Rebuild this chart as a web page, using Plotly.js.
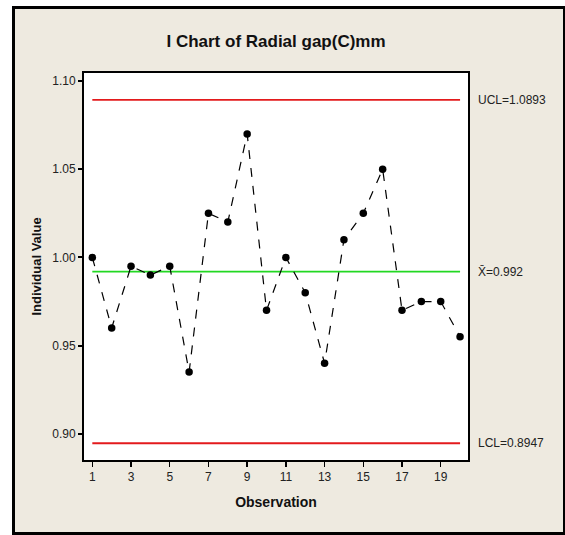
<!DOCTYPE html>
<html>
<head>
<meta charset="utf-8">
<script src="https://cdn.plot.ly/plotly-3.0.1.min.js"></script>
<style>
  html, body { margin: 0; padding: 0; background: #ffffff; }
  #frame { position: absolute; left: 12px; top: 6px; width: 553px; height: 529px;
           box-sizing: border-box; border: 3px solid #000; border-right-width: 2px; background: #EEEAE0; }
  #chart { position: absolute; left: 0; top: 0; width: 565px; height: 535px; }
</style>
</head>
<body>
<div id="frame"></div>
<div id="chart"></div>
<script>
const observations = [1,2,3,4,5,6,7,8,9,10,11,12,13,14,15,16,17,18,19,20];
const values = [1.000,0.960,0.995,0.990,0.995,0.935,1.025,1.020,1.070,0.970,
                1.000,0.980,0.940,1.010,1.025,1.050,0.970,0.975,0.975,0.955];
const UCL = 1.0893;
const meanX = 0.992;
const LCL = 0.8947;
const limitLabels = ["UCL=1.0893", "X\u0304=0.992", "LCL=0.8947"];
const yTicks = [0.90, 0.95, 1.00, 1.05, 1.10];
const xTicks = [1,3,5,7,9,11,13,15,17,19];

const xStart = observations[0], xEnd = observations[observations.length-1];
const narrow = "Liberation Sans Narrow, Arial Narrow, Liberation Sans, Arial, sans-serif";

const traces = [
  {x:[xStart,xEnd], y:[UCL,UCL], mode:'lines', line:{color:'#E31A1C', width:1.8}, hoverinfo:'skip'},
  {x:[xStart,xEnd], y:[LCL,LCL], mode:'lines', line:{color:'#E31A1C', width:1.8}, hoverinfo:'skip'},
  {x:[xStart,xEnd], y:[meanX,meanX], mode:'lines', line:{color:'#22D822', width:1.8}, hoverinfo:'skip'},
  {x:observations, y:values, mode:'lines+markers',
   line:{color:'#000', width:1.2, dash:'dash'},
   marker:{color:'#000', size:7.5, symbol:'circle'}}
];

const labelY = [UCL, meanX, LCL];
const annotations = labelY.map((v,i) => ({
  xref:'paper', yref:'y', x:1.02, y:v, xanchor:'left', yanchor:'middle',
  text: limitLabels[i], showarrow:false,
  font:{family:narrow, size:12, color:'#222'}
}));

const layout = {
  width:565, height:535,
  margin:{l:84, r:97, t:73, b:75},
  paper_bgcolor:'rgba(0,0,0,0)',
  plot_bgcolor:'#ffffff',
  showlegend:false,
  title:{text:'<b>I Chart of Radial gap(C)mm</b>', x:0.5, xanchor:'center', xref:'paper',
         y:1-41/535, yanchor:'middle',
         font:{family:narrow, size:17, color:'#111'}},
  xaxis:{range:[0.57,20.41], tickvals:xTicks, ticktext:xTicks.map(String),
         ticks:'outside', ticklen:5, tickwidth:1.5, tickcolor:'#000',
         showline:true, mirror:true, linecolor:'#000', linewidth:2,
         showgrid:false, zeroline:false,
         tickfont:{family:narrow, size:12, color:'#222'},
         title:{text:'<b>Observation</b>', standoff:14, font:{family:narrow, size:14, color:'#111'}}},
  yaxis:{range:[0.8852,1.1045], tickvals:yTicks, ticktext:yTicks.map(v=>v.toFixed(2)),
         ticks:'outside', ticklen:4, tickwidth:2, tickcolor:'#000',
         showline:true, mirror:true, linecolor:'#000', linewidth:2,
         showgrid:false, zeroline:false,
         tickfont:{family:narrow, size:12, color:'#222'},
         title:{text:'<b>Individual Value</b>', standoff:8, font:{family:narrow, size:13, color:'#111'}}},
  annotations:annotations
};

Plotly.newPlot('chart', traces, layout, {displayModeBar:false, staticPlot:true});
</script>
</body>
</html>
